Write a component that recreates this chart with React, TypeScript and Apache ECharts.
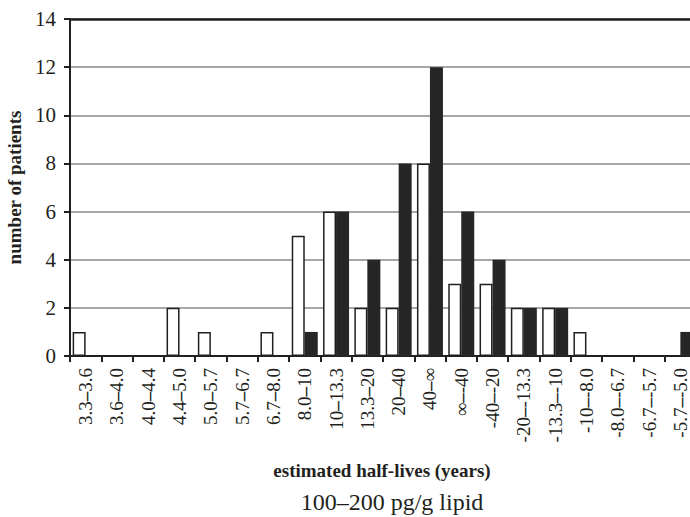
import React, { useEffect, useRef } from "react";
import * as echarts from "echarts";

const categories = [
  "3.3–3.6", "3.6–4.0", "4.0–4.4", "4.4–5.0", "5.0–5.7", "5.7–6.7", "6.7–8.0",
  "8.0–10", "10–13.3", "13.3–20", "20–40", "40–∞", "∞–-40", "-40–-20",
  "-20–-13.3", "-13.3–-10", "-10–-8.0", "-8.0–-6.7", "-6.7–-5.7", "-5.7–-5.0",
];
const whiteValues = [1, 0, 0, 2, 1, 0, 1, 5, 6, 2, 2, 8, 3, 3, 2, 2, 1, 0, 0, 0];
const blackValues = [0, 0, 0, 0, 0, 0, 0, 1, 6, 4, 8, 12, 6, 4, 2, 2, 0, 0, 0, 1];
const yAxisTitle = "number of patients";
const xAxisTitle = "estimated half-lives (years)";
const subtitle = "100–200 pg/g lipid";

const SERIF = "Liberation Serif";
const INK = "#231f20";

export default function App() {
  const ref = useRef<HTMLDivElement>(null);
  useEffect(() => {
    const chart = echarts.init(ref.current!, undefined, { renderer: "svg" });
    chart.setOption({
      animation: false,
      backgroundColor: "#ffffff",
      textStyle: { fontFamily: SERIF, color: INK },
      grid: {
        left: 70,
        top: 19,
        width: 626,
        height: 337,
        containLabel: false,
        outerBoundsMode: "none",
      },
      graphic: [
        {
          type: "text",
          x: 382,
          y: 470,
          style: {
            text: xAxisTitle,
            fontFamily: SERIF,
            fontSize: 19,
            fontWeight: "bold",
            fill: INK,
            align: "center",
            verticalAlign: "middle",
          },
        },
        {
          type: "text",
          x: 392,
          y: 502,
          style: {
            text: subtitle,
            fontFamily: SERIF,
            fontSize: 24,
            fill: INK,
            align: "center",
            verticalAlign: "middle",
          },
        },
      ],
      xAxis: [
        {
          type: "category",
          data: categories,
          position: "bottom",
          axisLine: { lineStyle: { color: INK, width: 2 } },
          axisTick: { show: true, length: 6, lineStyle: { color: INK, width: 2 } },
          axisLabel: {
            rotate: 90,
            margin: 12,
            fontFamily: SERIF,
            fontSize: 19,
            lineHeight: 16,
            color: INK,
            interval: 0,
            formatter: (v: string) => v.replace("–", "{d|–}"),
            rich: {
              d: { fontFamily: SERIF, fontSize: 19, lineHeight: 16, fontWeight: "bold", color: INK },
            },
          },
          splitLine: { show: false },
        },
        {
          type: "category",
          data: categories,
          position: "top",
          axisLine: { lineStyle: { color: INK, width: 2.5 } },
          axisTick: { show: false },
          axisLabel: { show: false },
        },
      ],
      yAxis: {
        type: "value",
        min: 0,
        max: 14,
        interval: 2,
        name: yAxisTitle,
        nameLocation: "middle",
        nameGap: 44,
        nameTextStyle: { fontFamily: SERIF, fontSize: 19, fontWeight: "bold", color: INK },
        axisLine: { show: true, lineStyle: { color: INK, width: 2 } },
        axisTick: { show: true, length: 6, lineStyle: { color: INK, width: 2 } },
        axisLabel: { fontFamily: SERIF, fontSize: 21, color: INK, margin: 14 },
        splitLine: { show: true, lineStyle: { color: "#8a8a8a", width: 1.5 } },
      },
      series: [
        {
          type: "bar",
          data: whiteValues,
          barWidth: 13,
          barGap: "0%",
          itemStyle: { color: "#ffffff", borderColor: INK, borderWidth: 1.5 },
        },
        {
          type: "bar",
          data: blackValues,
          barWidth: 13,
          barGap: "0%",
          itemStyle: { color: "#262626", borderColor: "#262626", borderWidth: 0 },
        },
      ],
    });
    return () => chart.dispose();
  }, []);
  return (
    <div
      ref={ref}
      style={{ position: "fixed", left: 0, top: 0, width: 690, height: 517 }}
    />
  );
}
